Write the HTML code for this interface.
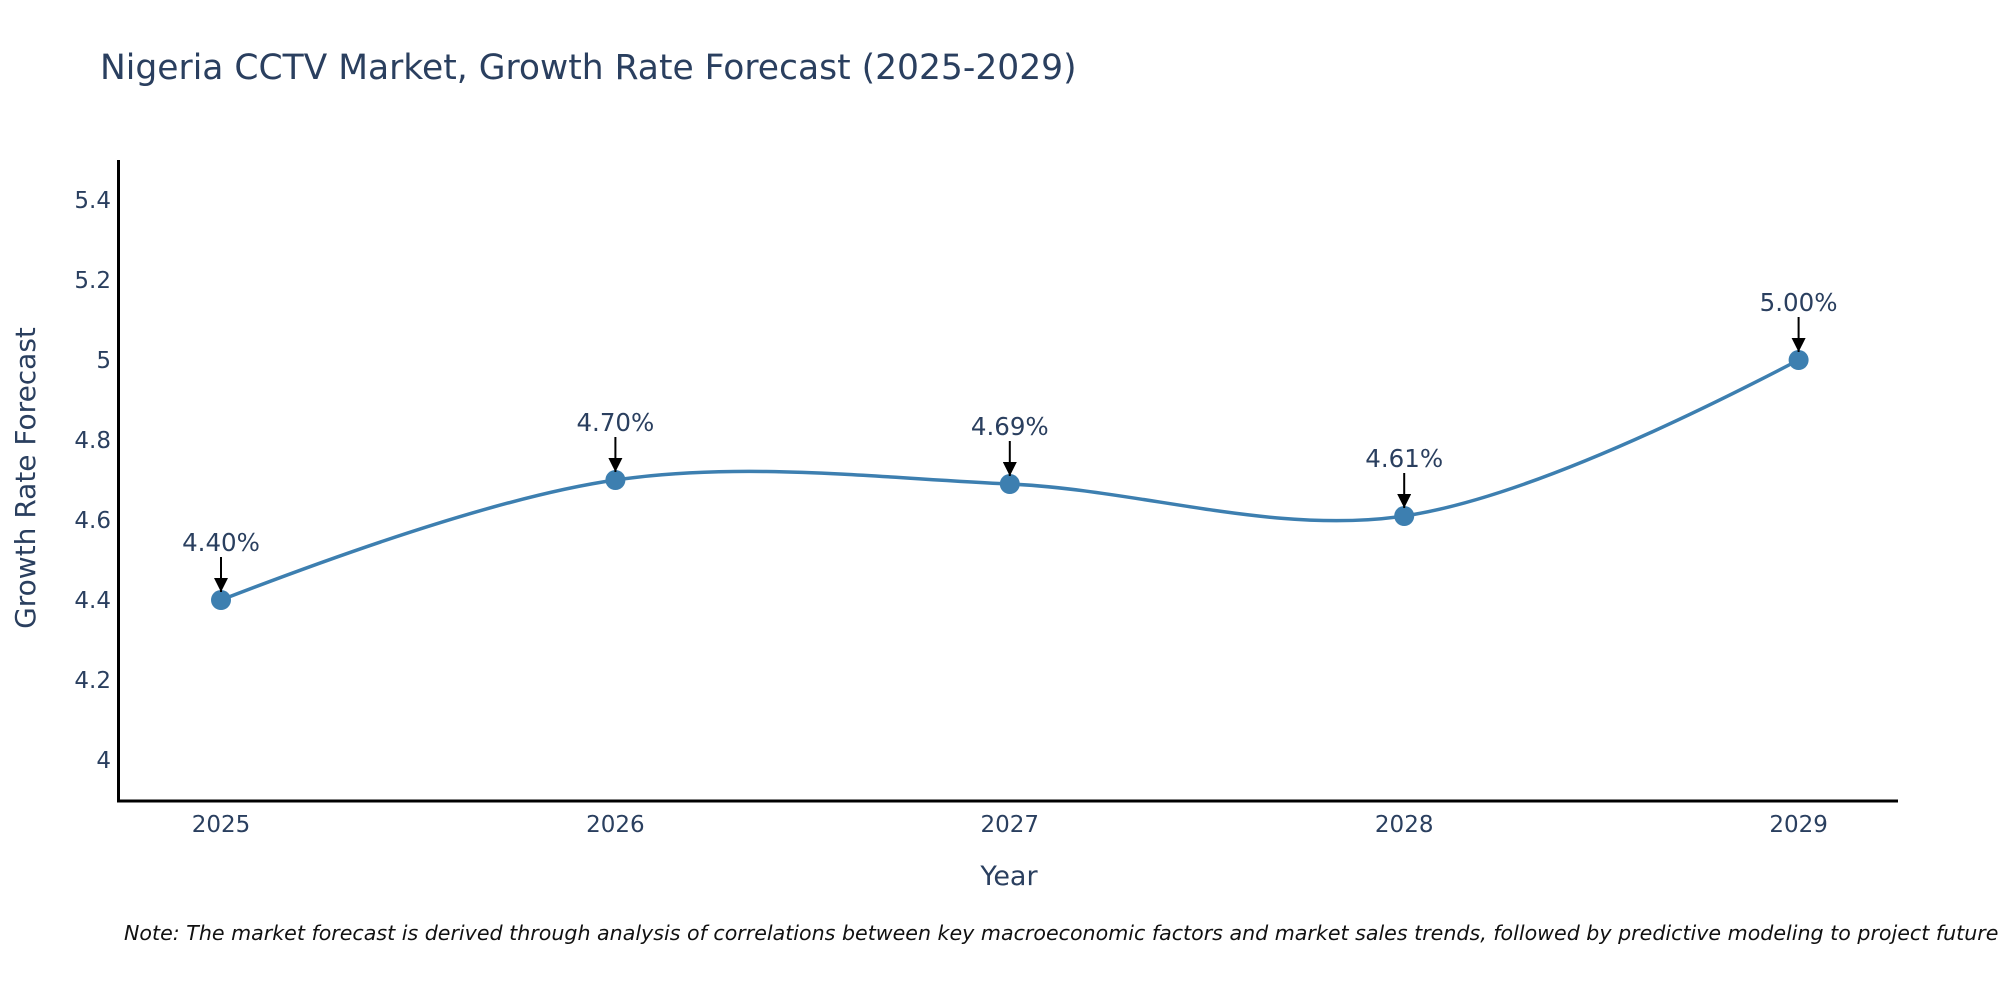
<!DOCTYPE html>
<html><head><meta charset="utf-8"><style>
html,body{margin:0;padding:0;background:#fff;overflow:hidden;}
svg text{font-family:"DejaVu Sans","Liberation Sans",sans-serif;fill:#2a3f5f;}
</style></head><body>
<svg id="chart" width="2000" height="1000" xmlns="http://www.w3.org/2000/svg">
<rect width="2000" height="1000" fill="#fff"/>
<text x="100" y="79" font-size="34.5">Nigeria CCTV Market, Growth Rate Forecast (2025-2029)</text>
<g id="yticks"></g>
<g id="xticks"></g>
<line x1="118.5" y1="160" x2="118.5" y2="802" stroke="#000" stroke-width="3"/>
<line x1="117" y1="801" x2="1898" y2="801" stroke="#000" stroke-width="3"/>
<path id="line" fill="none" stroke="#3d7fb0" stroke-width="3.5"/>
<g id="marks"></g>
<g id="annots"></g>
<text x="1009" y="885" font-size="27" text-anchor="middle">Year</text>
<text transform="translate(35,478) rotate(-90)" font-size="28" text-anchor="middle">Growth Rate Forecast</text>
<text x="124" y="940" font-size="20.6" font-style="italic" style="fill:#111">Note: The market forecast is derived through analysis of correlations between key macroeconomic factors and market sales trends, followed by predictive modeling to project future sales.</text>
<defs><marker id="ah" viewBox="0 0 10 10" refX="10" refY="5" markerWidth="7" markerHeight="7" orient="auto"><path d="M0,0L10,5L0,10z" fill="#000"/></marker></defs>
</svg>
<script>
const years = [2025, 2026, 2027, 2028, 2029];
const values = [4.40, 4.70, 4.69, 4.61, 5.00];
const valueLabels = ["4.40%", "4.70%", "4.69%", "4.61%", "5.00%"];
const yTickValues = [4, 4.2, 4.4, 4.6, 4.8, 5, 5.2, 5.4];
const yTickLabels = ["4", "4.2", "4.4", "4.6", "4.8", "5", "5.2", "5.4"];

const NS = "http://www.w3.org/2000/svg";
function xs(v){ return 221 + (v - 2025) * 394.4; }
function ys(v){ return 760 - (v - 4.0) * 400; }
function mk(tag, attrs, parent){ const e=document.createElementNS(NS,tag); for(const k in attrs) e.setAttribute(k,attrs[k]); parent.appendChild(e); return e; }

const yt=document.getElementById('yticks');
yTickValues.forEach((v,i)=>{
  const t=mk('text',{x:111,y:ys(v)+8,'font-size':23,'text-anchor':'end'},yt);
  
  
  t.textContent=yTickLabels[i];
});
const xt=document.getElementById('xticks');
years.forEach(y=>{
  const t=mk('text',{x:xs(y),y:832,'font-size':23,'text-anchor':'middle'},xt);
  
  
  t.textContent=String(y);
});

const pts=years.map((y,i)=>[xs(y),ys(values[i])]);
function tangent(p,c,n){
  const d1x=p[0]-c[0],d1y=p[1]-c[1],d2x=n[0]-c[0],d2y=n[1]-c[1];
  const d1a=Math.pow(d1x*d1x+d1y*d1y,0.25),d2a=Math.pow(d2x*d2x+d2y*d2y,0.25);
  const nx=(d2a*d2a*d1x-d1a*d1a*d2x),ny=(d2a*d2a*d1y-d1a*d1a*d2y);
  const den1=3*d2a*(d1a+d2a),den2=3*d1a*(d1a+d2a);
  return [[c[0]+nx/den1,c[1]+ny/den1],[c[0]-nx/den2,c[1]-ny/den2]];
}
const tg=[];
for(let i=1;i<pts.length-1;i++) tg.push(tangent(pts[i-1],pts[i],pts[i+1]));
const P=p=>p[0].toFixed(2)+","+p[1].toFixed(2);
let d="M"+P(pts[0])+"Q"+P(tg[0][0])+" "+P(pts[1]);
for(let i=2;i<pts.length-1;i++) d+="C"+P(tg[i-2][1])+" "+P(tg[i-1][0])+" "+P(pts[i]);
d+="Q"+P(tg[pts.length-3][1])+" "+P(pts[pts.length-1]);
document.getElementById('line').setAttribute('d',d);

const mg=document.getElementById('marks'), ag=document.getElementById('annots');
pts.forEach((p,i)=>{
  const c=mk('circle',{cx:p[0],cy:p[1],r:10,fill:'#3d7fb0'},mg);
  
  
  const l=mk('line',{x1:p[0],y1:p[1]-43,x2:p[0],y2:p[1]-8,stroke:'#000','stroke-width':2,'marker-end':'url(#ah)'},ag);
  
  
  const t=mk('text',{x:p[0],y:p[1]-49,'font-size':24.5,'text-anchor':'middle'},ag);
  
  
  t.textContent=valueLabels[i];
});
</script>
</body></html>
